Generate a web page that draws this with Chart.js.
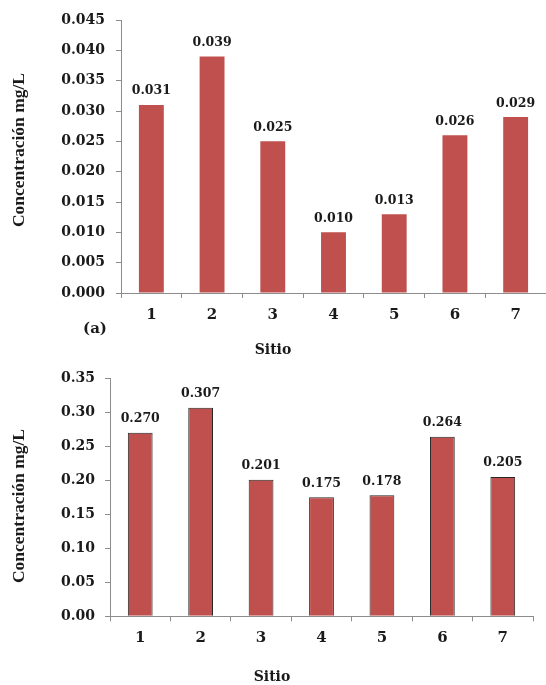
<!DOCTYPE html>
<html>
<head>
<meta charset="utf-8">
<script src="https://cdn.jsdelivr.net/npm/chart.js@4.4.1/dist/chart.umd.min.js"></script>
<style>
  html, body { margin: 0; padding: 0; background: #ffffff; }
  body { width: 546px; height: 685px; position: relative; overflow: hidden; }
  .panel { position: absolute; left: 0; width: 546px; }
  #panelA { top: 0; height: 360px; }
  #panelB { top: 360px; height: 325px; }
</style>
</head>
<body>
<div class="panel" id="panelA"><canvas id="chartA" width="546" height="360"></canvas></div>
<div class="panel" id="panelB"><canvas id="chartB" width="546" height="325"></canvas></div>
<script>
// Sampling sites
const siteLabels = ['1', '2', '3', '4', '5', '6', '7'];
// Concentración (mg/L), panel (a)
const concA = [0.031, 0.039, 0.025, 0.010, 0.013, 0.026, 0.029];
// Concentración (mg/L), lower panel
const concB = [0.270, 0.307, 0.201, 0.175, 0.178, 0.264, 0.205];

// Axis ranges and tick steps
const axisA = { max: 0.045, step: 0.005, decimals: 3 };
const axisB = { max: 0.35, step: 0.05, decimals: 2 };

const BAR_RED = '#C0504D';
const AXIS_GREY = '#8c8c8c';
const INK = '#1a1a1a';
const CAMBRIA_LIKE = "'DejaVu Serif', serif";
const TIMES_LIKE = "'Liberation Serif', 'Times New Roman', serif";

// Writes each bar's value above it
const valueLabels = {
  id: 'valueLabels',
  afterDatasetsDraw(chart, args, opts) {
    const ctx = chart.ctx;
    const meta = chart.getDatasetMeta(0);
    const values = chart.data.datasets[0].data;
    ctx.save();
    ctx.font = opts.font;
    ctx.fillStyle = INK;
    ctx.textAlign = 'center';
    ctx.textBaseline = 'alphabetic';
    meta.data.forEach((bar, i) => {
      ctx.fillText(values[i].toFixed(3), bar.x, bar.y - opts.gap);
    });
    ctx.restore();
  }
};

// Free-standing captions: axis titles and panel tag
const captions = {
  id: 'captions',
  afterDraw(chart, args, opts) {
    const ctx = chart.ctx;
    (opts.items || []).forEach(item => {
      ctx.save();
      ctx.font = item.font;
      ctx.fillStyle = INK;
      ctx.textAlign = 'center';
      ctx.textBaseline = 'middle';
      ctx.translate(item.x, item.y);
      if (item.rotate) ctx.rotate(item.rotate);
      ctx.fillText(item.text, 0, 0);
      ctx.restore();
    });
  }
};

function makeChart(canvasId, values, axis, geom, items, bordered) {
  return new Chart(document.getElementById(canvasId), {
    type: 'bar',
    data: {
      labels: siteLabels,
      datasets: [{
        data: values,
        backgroundColor: BAR_RED,
        borderColor: bordered ? '#262626' : BAR_RED,
        borderWidth: bordered ? 1 : 0,
        barPercentage: 0.41,
        categoryPercentage: 1.0
      }]
    },
    options: {
      responsive: false,
      animation: false,
      layout: { padding: { top: geom.top, right: geom.right, bottom: 0, left: 0 } },
      plugins: {
        legend: { display: false },
        tooltip: { enabled: false },
        valueLabels: { font: "bold 12.5px " + CAMBRIA_LIKE, gap: 10.5 },
        captions: { items: items }
      },
      scales: {
        x: {
          type: 'category',
          offset: true,
          afterFit(scale) { scale.height = geom.xHeight; },
          grid: {
            offset: true,
            drawOnChartArea: false,
            drawTicks: true,
            tickLength: 5,
            color: AXIS_GREY
          },
          border: { color: AXIS_GREY, width: 1 },
          ticks: {
            color: INK,
            font: { family: CAMBRIA_LIKE, size: 15, weight: 'bold' },
            padding: 8
          }
        },
        y: {
          min: 0,
          max: axis.max,
          afterFit(scale) { scale.width = geom.yWidth; },
          grid: {
            drawOnChartArea: false,
            drawTicks: true,
            tickLength: 5,
            color: AXIS_GREY
          },
          border: { color: AXIS_GREY, width: 1 },
          ticks: {
            stepSize: axis.step,
            color: INK,
            font: { family: CAMBRIA_LIKE, size: 14, weight: 'bold' },
            padding: geom.yPad,
            callback: v => Number(v).toFixed(axis.decimals)
          }
        }
      }
    },
    plugins: [valueLabels, captions]
  });
}

const yTitleFont = "bold 17.5px " + TIMES_LIKE;
const capFont = "bold 14px " + CAMBRIA_LIKE;

makeChart('chartA', concA, axisA,
  { top: 20, right: -3, xHeight: 67, yWidth: 121, yPad: 11 },
  [
    { text: 'Concentración mg/L', x: 19, y: 150, rotate: -Math.PI / 2, font: yTitleFont },
    { text: '(a)', x: 95, y: 329, font: "bold 15px " + CAMBRIA_LIKE },
    { text: 'Sitio', x: 273, y: 350, font: capFont }
  ],
  false);

makeChart('chartB', concB, axisB,
  { top: 16.5, right: 13, xHeight: 68.7, yWidth: 110, yPad: 10 },
  [
    { text: 'Concentración mg/L', x: 19, y: 146, rotate: -Math.PI / 2, font: yTitleFont },
    { text: 'Sitio', x: 272, y: 317, font: capFont }
  ],
  true);
</script>
</body>
</html>
